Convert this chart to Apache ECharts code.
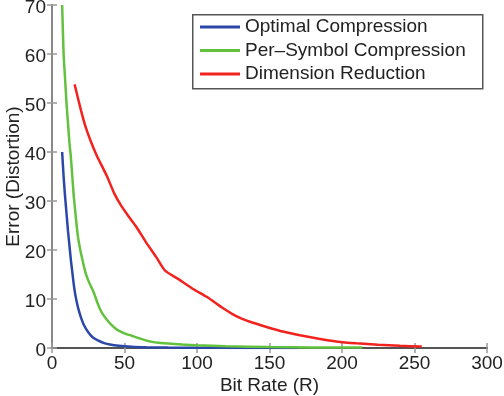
<!DOCTYPE html>
<html>
<head>
<meta charset="utf-8">
<script src="https://cdn.jsdelivr.net/npm/echarts@6/dist/echarts.min.js"></script>
<style>html,body{margin:0;padding:0;background:#fff}#c{width:504px;height:396px}</style>
</head>
<body>
<div id="c"></div>
<script>
const seriesNames = ['Optimal Compression', 'Per\u2013Symbol Compression', 'Dimension Reduction'];
const xTicks = [0, 50, 100, 150, 200, 250, 300];
const yTicks = [0, 10, 20, 30, 40, 50, 60, 70];
const optimal = [[7,40],[8,35],[9,31],[10,27.5],[11,24],[12,21],[13,18],[14,15.5],[15,13],[16,11],[17,9.5],[18,8.2],[20,6.2],[22,4.7],[25,3.2],[28,2.2],[32,1.5],[36,1.0],[40,0.7],[46,0.45],[55,0.25],[65,0.15],[80,0.08],[100,0.04],[130,0.02],[170,0.01]];
const perSymbol = [[7,70],[8,60],[9,55],[10,50],[11,46],[12,42],[13,39],[14,35],[15,31],[16,28],[17,25],[18,22.5],[19.5,20],[21,18],[23,15.5],[25,13.8],[27,12.5],[29,11.2],[31,9.5],[33,8],[35,6.9],[38,5.7],[41,4.7],[45,3.7],[50,3.0],[55,2.5],[60,2.0],[68,1.3],[75,1.0],[90,0.7],[100,0.55],[120,0.35],[150,0.2],[180,0.12],[214,0.08]];
const dimReduction = [[15.6,53.8],[20,48.5],[23,45.3],[27,42],[31,39.2],[38,35],[43,31.5],[48,28.9],[53,26.8],[58,24.8],[65,21.5],[72,18.5],[78,15.8],[88,13.9],[97,12.1],[107,10.4],[117,8.3],[127,6.5],[137,5.3],[148,4.3],[160,3.3],[171,2.6],[184,1.9],[196,1.35],[210,0.95],[225,0.65],[240,0.45],[255,0.3]];

const colors = ['#2b47a8', '#62c13d', '#f2221f'];
const FONT = 'Liberation Sans, Arial, Helvetica, sans-serif';
const FS = 19;

const chart = echarts.init(document.getElementById('c'), null, {renderer: 'canvas'});
const axisCommon = (extra) => Object.assign({
  type: 'value',
  splitLine: {show: false},
  axisTick: {show: true, inside: true, length: 5, lineStyle: {color: '#999', width: 1.5}},
}, extra);

chart.setOption({
  animation: false,
  backgroundColor: '#fff',
  textStyle: {fontFamily: FONT},
  grid: {left: 52, right: 17, top: 5, bottom: 48, containLabel: false, outerBoundsMode: 'none'},
  graphic: [{
    type: 'rect', left: 192, top: 14, z: 100,
    shape: {width: 290, height: 74},
    style: {fill: '#fff', stroke: '#555', lineWidth: 1.5}
  }],
  legend: {
    orient: 'vertical', left: 200, top: 17, z: 110,
    padding: 0, itemGap: 3.5, itemWidth: 40, itemHeight: 3,
    icon: 'rect',
    textStyle: {fontFamily: FONT, fontSize: FS, color: '#222', lineHeight: 20, padding: [0,0,0,0]},
    data: seriesNames
  },
  xAxis: [
    axisCommon({
      position: 'bottom', min: xTicks[0], max: xTicks[xTicks.length-1], interval: 50,
      name: 'Bit Rate (R)', nameLocation: 'middle', nameGap: 28, nameMoveOverlap: false,
      nameTextStyle: {fontFamily: FONT, fontSize: FS, color: '#222'},
      axisLine: {lineStyle: {color: '#222', width: 2}},
      axisLabel: {fontFamily: FONT, fontSize: FS, color: '#222', margin: 6}
    }),
    axisCommon({
      position: 'top', min: xTicks[0], max: xTicks[xTicks.length-1], interval: 50,
      axisLine: {lineStyle: {color: '#666', width: 1.5}},
      axisLabel: {show: false}
    })
  ],
  yAxis: [
    axisCommon({
      position: 'left', min: yTicks[0], max: yTicks[yTicks.length-1], interval: 10,
      name: 'Error (Distortion)', nameLocation: 'middle', nameGap: 29, nameRotate: 90, nameMoveOverlap: false,
      nameTextStyle: {fontFamily: FONT, fontSize: FS, color: '#222'},
      axisLine: {lineStyle: {color: '#222', width: 2}},
      axisLabel: {
        color: '#222', margin: 6,
        formatter: '{a|{value}}',
        rich: {a: {fontFamily: FONT, fontSize: FS, color: '#222', lineHeight: 22, padding: [6, 0, 0, 0]}}
      }
    }),
    axisCommon({
      position: 'right', min: yTicks[0], max: yTicks[yTicks.length-1], interval: 10,
      axisLine: {lineStyle: {color: '#888', width: 2}},
      axisLabel: {show: false}
    })
  ],
  series: [
    {name: seriesNames[0], type: 'line', data: optimal, showSymbol: false, smooth: 0.2, clip: true,
     lineStyle: {color: colors[0], width: 2.5}, itemStyle: {color: colors[0]}},
    {name: seriesNames[1], type: 'line', data: perSymbol, showSymbol: false, smooth: 0.2, clip: true,
     lineStyle: {color: colors[1], width: 2.5}, itemStyle: {color: colors[1]}},
    {name: seriesNames[2], type: 'line', data: dimReduction, showSymbol: false, smooth: 0.2, clip: true,
     lineStyle: {color: colors[2], width: 2.5}, itemStyle: {color: colors[2]}}
  ]
});
</script>
</body>
</html>
